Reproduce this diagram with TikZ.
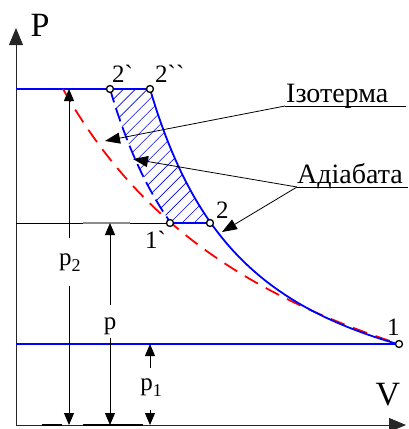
\documentclass[tikz,border=0pt]{standalone}
\usepackage{fontspec}
\setmainfont{Liberation Serif}[Ligatures=TeXOff]
\newcommand\lab{\rmfamily}
\usetikzlibrary{arrows.meta,patterns.meta}
\begin{document}
\begin{tikzpicture}[x=1pt,y=-1pt,
  ax/.style={line width=0.9pt, black!85},
  thinl/.style={line width=0.8pt, black},
  bl/.style={line width=1.8pt, blue},
  rd/.style={line width=1.8pt, red, dash pattern=on 15pt off 9pt},
  bld/.style={line width=1.8pt, blue, dash pattern=on 14pt off 6pt},
  pt/.style={circle, draw=black, fill=white, line width=1.3pt, inner sep=0pt, minimum size=7pt},
  lbl/.style={font=\lab\fontsize{25}{28}\selectfont, inner sep=0pt},
  big/.style={font=\lab\fontsize{34}{38}\selectfont, inner sep=0pt},
  nm/.style={font=\lab\fontsize{28}{32}\selectfont, inner sep=0pt, anchor=base west},
  axarr/.style={-{Triangle[length=17pt,width=14pt]}},
  sarr/.style={-{Triangle[length=12pt,width=10pt]}},
  larr/.style={-{Triangle[length=15pt,width=11pt]}},
]
\useasboundingbox (0,0) rectangle (408,429);
% key coordinates
\coordinate (O) at (16,425);
\coordinate (Ytip) at (16,28);
\coordinate (Xtip) at (406,425);
\coordinate (A) at (16,89);
\coordinate (B) at (16,223);
\coordinate (C) at (16,344);
\coordinate (c2a) at (110,89);
\coordinate (c2b) at (150,89);
\coordinate (c1a) at (170,223);
\coordinate (c2) at (210,223);
\coordinate (c1) at (399,344);
% hatch
\path[pattern={Lines[angle=45,distance=8.5pt,line width=0.6pt]}, pattern color=blue]
  plot[domain=134:194, samples=30, variable=\t] ({\t-24},{425-336*(134/\t)^1.36})
  -- plot[domain=194:134, samples=30, variable=\t] ({16+\t},{425-336*(134/\t)^1.36}) -- cycle;
% axes
\draw[ax, axarr] (O) -- (Ytip);
\draw[ax, axarr] (O) -- (Xtip);
\coordinate (t1) at (42,425); \coordinate (t2) at (62,425);
\coordinate (t3) at (83,425); \coordinate (t4) at (143,425);
\draw[line width=1.4pt] (t1) -- (t2);
\draw[line width=1.4pt] (t3) -- (t4);
% horizontal lines
\draw[bl] (A) -- (c2b);
\draw[thinl] (B) -- (c1a);
\coordinate (g1) at (83,223); \coordinate (g2) at (130,223);
\draw[line width=1.4pt, black!45] (g1) -- (g2);
\draw[bl] (c1a) -- (c2);
\draw[bl] (C) -- (c1);
% curves
\draw[rd] plot[domain=63:399, samples=80, variable=\t] ({\t},{535.2-1124.42/((\t+189)/100)});
\draw[bld] plot[domain=134:194, samples=30, variable=\t] ({\t-24},{425-336*(134/\t)^1.36});
\draw[bl] plot[domain=134:383, samples=80, variable=\t] ({16+\t},{425-336*(134/\t)^1.36});
% dimension arrows
\node[lbl] (lp2) at (70,263) {p\raisebox{-6pt}{\fontsize{18}{18}\selectfont 2}};
\coordinate (v2top) at (69,89); \coordinate (v2u) at (69,238);
\coordinate (v2d) at (69,286); \coordinate (v2bot) at (69,425);
\draw[thinl, sarr] (v2u) -- (v2top);
\draw[thinl, sarr] (v2d) -- (v2bot);
\node[lbl] (lp) at (110,326) {p};
\coordinate (vtop) at (110,223); \coordinate (vu) at (110,305);
\coordinate (vd) at (110,338); \coordinate (vbot) at (110,425);
\draw[thinl, sarr] (vu) -- (vtop);
\draw[thinl, sarr] (vd) -- (vbot);
\node[lbl] (lp1) at (151,388) {p\raisebox{-6pt}{\fontsize{18}{18}\selectfont 1}};
\coordinate (v1top) at (150,344); \coordinate (v1u) at (150,368);
\coordinate (v1d) at (150,410); \coordinate (v1bot) at (150,425);
\draw[thinl, sarr] (v1u) -- (v1top);
\draw[thinl, sarr] (v1d) -- (v1bot);
% labels with leaders
\node[nm] (iz) at (286,102) {Ізотерма};
\coordinate (izl) at (285,106); \coordinate (izr) at (406,106);
\coordinate (iztip) at (105,141);
\draw[thinl] (izl) -- (izr);
\draw[thinl, larr] (izl) -- (iztip);
\node[nm] (ad) at (297,183) {Адіабата};
\coordinate (adl) at (297,187); \coordinate (adr) at (408,187);
\coordinate (adtip1) at (133,159); \coordinate (adtip2) at (222,232);
\draw[thinl] (adl) -- (adr);
\draw[thinl, larr] (adl) -- (adtip1);
\draw[thinl, larr] (adl) -- (adtip2);
% points
\node[pt] (n2a) at (c2a) {};
\node[pt] (n2b) at (c2b) {};
\node[pt] (n1a) at (c1a) {};
\node[pt] (n2) at (c2) {};
\node[pt] (n1) at (c1) {};
\node[lbl, anchor=base west] (l2a) at (112,82) {2`};
\node[lbl, anchor=base west] (l2b) at (155,82) {2``};
\node[lbl, anchor=base west] (l1a) at (145,248) {1`};
\node[lbl, anchor=base west] (l2) at (216,218) {2};
\node[lbl, anchor=base west] (l1) at (387,335) {1};
\node[big] (P) at (40,25) {P};
\node[big] (V) at (388,395) {V};
\end{tikzpicture}
\end{document}
